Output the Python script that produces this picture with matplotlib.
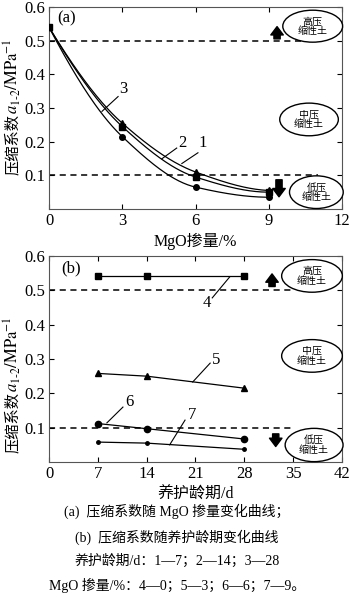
import numpy as np
import matplotlib
matplotlib.use('Agg')
import matplotlib.pyplot as plt
from matplotlib.patches import Ellipse

plt.rcParams['font.family'] = ['Liberation Serif', 'Noto Sans CJK SC', 'DejaVu Sans']
plt.rcParams['mathtext.fontset'] = 'stix'

# panel (a): compression coefficient vs MgO content, one curve per curing age
mgo = [0, 3, 6, 9]
a_7d = [0.54, 0.255, 0.110, 0.055]
a_14d = [0.54, 0.245, 0.095, 0.050]
a_28d = [0.54, 0.215, 0.065, 0.035]

# panel (b): compression coefficient vs curing age, one line per MgO content
age = [7, 14, 28]
b_0 = [0.543, 0.543, 0.543]
b_3 = [0.258, 0.250, 0.215]
b_6 = [0.112, 0.097, 0.067]
b_9 = [0.058, 0.055, 0.037]

bounds = [0.5, 0.1]
zones = ['高压\n缩性土', '中压\n缩性土', '低压\n缩性土']
captions = ['(a)  压缩系数随 MgO 掺量变化曲线；',
            '(b)  压缩系数随养护龄期变化曲线',
            '养护龄期/d：1—7；2—14；3—28',
            'MgO 掺量/%：4—0；5—3；6—6；7—9。']

W, H = 350, 597


def pchip(x, y, n=150):
    # monotone cubic, only used to draw a smooth line through the points
    x = np.asarray(x, float)
    y = np.asarray(y, float)
    h = np.diff(x)
    d = np.diff(y) / h
    m = np.zeros_like(y)
    for k in range(1, len(x) - 1):
        if d[k - 1] * d[k] > 0:
            w1 = 2 * h[k] + h[k - 1]
            w2 = h[k] + 2 * h[k - 1]
            m[k] = (w1 + w2) / (w1 / d[k - 1] + w2 / d[k])
    m[0] = ((2 * h[0] + h[1]) * d[0] - h[0] * d[1]) / (h[0] + h[1])
    m[-1] = ((2 * h[-1] + h[-2]) * d[-1] - h[-1] * d[-2]) / (h[-1] + h[-2])
    if np.sign(m[0]) != np.sign(d[0]):
        m[0] = 0
    if np.sign(m[-1]) != np.sign(d[-1]):
        m[-1] = 0
    xs = np.linspace(x[0], x[-1], n)
    idx = np.clip(np.searchsorted(x, xs) - 1, 0, len(x) - 2)
    t = (xs - x[idx]) / h[idx]
    h00 = 2 * t**3 - 3 * t**2 + 1
    h10 = t**3 - 2 * t**2 + t
    h01 = -2 * t**3 + 3 * t**2
    h11 = t**3 - t**2
    ys = h00 * y[idx] + h10 * h[idx] * m[idx] + h01 * y[idx + 1] + h11 * h[idx] * m[idx + 1]
    return xs, ys


def px_rect(l, t, r, b):
    return [l / W, 1 - b / H, (r - l) / W, (b - t) / H]


def style_axes(ax):
    for s in ax.spines.values():
        s.set_linewidth(0.8)
        s.set_color('#555555')
    ax.tick_params(direction='in', top=True, right=True, length=3.5, width=0.8,
                   labelsize=12, pad=3)
    ax.set_ylim(0, 0.6)
    ax.set_yticks([0.1, 0.2, 0.3, 0.4, 0.5, 0.6])
    ax.set_yticklabels(['0.1', '0.2', '0.3', '0.4', '0.5', '0.6'])


def zone_marks(ax, ye, ew, eh, xa, up, down):
    for (x, y), w, h, txt in zip(ye, ew, eh, zones):
        ax.add_patch(Ellipse((x, y), w, h, fc='white', ec='black', lw=1.0,
                             zorder=5, clip_on=False))
        ax.text(x, y, txt, ha='center', va='center', fontsize=7.2,
                linespacing=0.95, family='Noto Sans CJK SC', zorder=6)
    arrow = dict(arrowstyle='simple,head_width=0.9,head_length=0.6,tail_width=0.45',
                 fc='black', ec='black', mutation_scale=10)
    ax.annotate('', xy=(xa[0], up[1]), xytext=(xa[0], up[0]), arrowprops=arrow, zorder=4)
    ax.annotate('', xy=(xa[1], down[1]), xytext=(xa[1], down[0]), arrowprops=arrow, zorder=4)


def leader(ax, label, txt_xy, p0, p1):
    ax.plot([p0[0], p1[0]], [p0[1], p1[1]], color='black', lw=0.8)
    ax.text(txt_xy[0], txt_xy[1], label, fontsize=12, ha='center', va='center')


def ylabel(fig, x, y_split):
    fig.text(x / W, 1 - y_split / H, '压缩系数', rotation=90, ha='center', va='top',
             fontsize=11, family='Noto Sans CJK SC')
    fig.text(x / W, 1 - y_split / H, r'$a_{1\text{-}2}/\mathrm{MPa}^{-1}$', rotation=90,
             ha='center', va='bottom', fontsize=12)


fig = plt.figure(figsize=(W / 100, H / 100), dpi=100)

# ---- panel (a)
ax1 = fig.add_axes(px_rect(49, 7, 342, 209))
style_axes(ax1)
ax1.set_xlim(0, 12)
ax1.set_xticks([0, 3, 6, 9, 12])
for yv in bounds:
    ax1.plot([0, 11], [yv, yv], ls=(0, (4, 3)), color='black', lw=1.1, zorder=2)
for vals, mk in [(a_7d, '^'), (a_14d, 's'), (a_28d, 'o')]:
    xs, ys = pchip(mgo, vals)
    ax1.plot(xs, ys, color='black', lw=0.9, zorder=3)
    ax1.plot(mgo, vals, ls='none', marker=mk, ms=4, color='black', zorder=3)
zone_marks(ax1, [(10.8, 0.543), (10.65, 0.266), (10.95, 0.050)],
           [2.45, 2.4, 2.2], [0.095, 0.097, 0.097],
           (9.34, 9.42), (0.497, 0.55), (0.095, 0.028))
leader(ax1, '3', (3.05, 0.355), (2.83, 0.334), (2.17, 0.29))
leader(ax1, '2', (5.45, 0.196), (5.23, 0.181), (4.62, 0.149))
leader(ax1, '1', (6.3, 0.196), (6.1, 0.167), (5.44, 0.135))
ax1.text(0.35, 0.565, '(a)', fontsize=12, ha='left', va='center')
ax1.set_xlabel('MgO掺量/%', fontsize=11.5, labelpad=3,
               family=['Liberation Serif', 'Noto Sans CJK SC'])
ylabel(fig, 12, 114)

# ---- panel (b)
ax2 = fig.add_axes(px_rect(49, 256, 342, 462))
style_axes(ax2)
ax2.set_xlim(0, 42)
ax2.set_xticks([0, 7, 14, 21, 28, 35, 42])
ax2.plot([0, 35], [bounds[0], bounds[0]], ls=(0, (4, 3)), color='black', lw=1.1, zorder=2)
ax2.plot([0, 35], [bounds[1], bounds[1]], ls=(0, (4, 3)), color='black', lw=1.1, zorder=2)
for vals, mk, ms in [(b_0, 's', 5), (b_3, '^', 5), (b_6, 'o', 4.5), (b_9, 'o', 2.5)]:
    ax2.plot(age, vals, marker=mk, ms=ms, color='black', lw=0.9, zorder=3)
zone_marks(ax2, [(37.7, 0.542), (37.7, 0.309), (38.0, 0.0495)],
           [8.7, 8.7, 8.3], [0.095, 0.095, 0.097],
           (31.97, 32.5), (0.503, 0.556), (0.09, 0.037))
leader(ax2, '4', (22.6, 0.462), (23.4, 0.478), (25.9, 0.539))
leader(ax2, '5', (23.9, 0.298), (23.1, 0.288), (20.6, 0.233))
leader(ax2, '6', (11.6, 0.176), (10.6, 0.16), (8.3, 0.114))
leader(ax2, '7', (20.5, 0.138), (19.5, 0.122), (17.3, 0.05))
ax2.text(1.7, 0.565, '(b)', fontsize=12, ha='left', va='center')
ax2.set_xlabel('养护龄期/d', fontsize=11.5, labelpad=3,
               family=['Liberation Serif', 'Noto Sans CJK SC'])
ylabel(fig, 12, 392)

# ---- caption
for cy, txt in zip([511, 537, 561, 585], captions):
    fig.text(177 / W, 1 - cy / H, txt, ha='center', va='center', fontsize=10,
             family=['Liberation Serif', 'Noto Sans CJK SC'])

fig.savefig('out.png', dpi=100)
